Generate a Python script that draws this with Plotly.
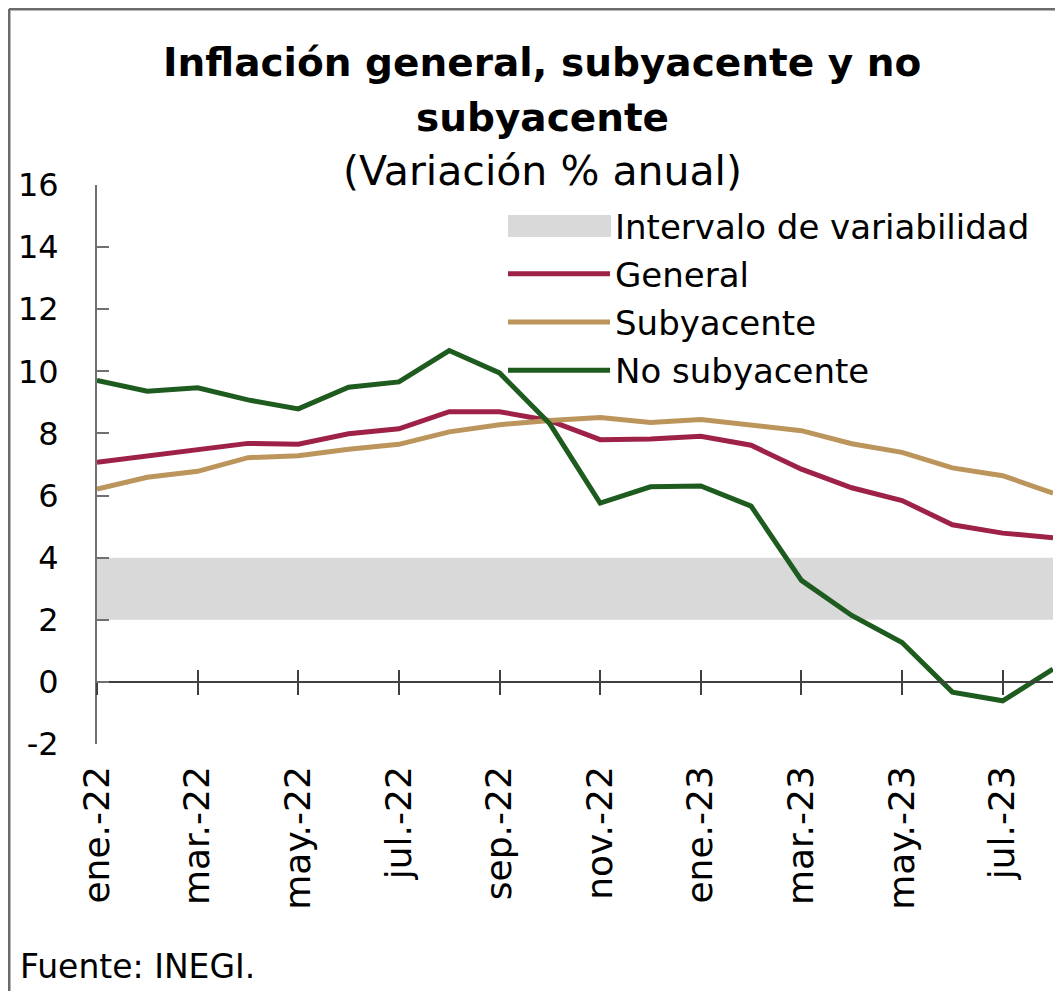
import plotly.graph_objects as go

# ---------------- data ----------------
months = ["ene.-22", "feb.-22", "mar.-22", "abr.-22", "may.-22", "jun.-22",
          "jul.-22", "ago.-22", "sep.-22", "oct.-22", "nov.-22", "dic.-22",
          "ene.-23", "feb.-23", "mar.-23", "abr.-23", "may.-23", "jun.-23",
          "jul.-23", "ago.-23"]
general = [7.07, 7.28, 7.45, 7.68, 7.65, 7.99, 8.15, 8.70, 8.70, 8.41,
           7.80, 7.82, 7.91, 7.62, 6.85, 6.25, 5.84, 5.06, 4.79, 4.64]
subyacente = [6.21, 6.59, 6.78, 7.22, 7.28, 7.49, 7.65, 8.05, 8.28, 8.42,
              8.51, 8.35, 8.45, 8.29, 8.09, 7.67, 7.39, 6.89, 6.64, 6.08]
no_subyacente = [9.71, 9.36, 9.47, 9.08, 8.79, 9.49, 9.66, 10.67, 9.95, 8.31,
                 5.76, 6.28, 6.31, 5.66, 3.27, 2.14, 1.27, -0.33, -0.61, 0.41]
band_low = 2
band_high = 4
tick_labels = months[::2]
y_ticks = list(range(-2, 17, 2))
y_tick_text = [str(v) for v in y_ticks]

# ---------------- figure ----------------
FONT = "DejaVu Sans"
C_GEN = "#9E2247"
C_SUB = "#BC955C"
C_NOS = "#1E5B1F"
C_BAND = "#D9D9D9"
C_FRAME = "#6B6B6B"

idx = list(range(len(months)))
tick_idx = idx[::2]
x_range = [idx[0], idx[-1]]
y_range = [y_ticks[0], y_ticks[-1]]

# page has an 8px body margin: work in reference pixels, shift by OFF
OFF = 8
W, H = 1063 - 2 * OFF, 999 - 2 * OFF
L = 97 - OFF
T = 185 - OFF
R = W - (1053 - OFF)
B = H - (744 - OFF)
pw, ph = W - L - R, H - T - B


def px_x(px):
    return (px - OFF - L) / pw


def px_y(py):
    return (H - B - (py - OFF)) / ph


fig = go.Figure()

# variability band
fig.add_trace(go.Scatter(x=idx, y=[band_low] * len(idx), mode="lines",
                         line=dict(width=0, color=C_BAND), showlegend=False,
                         hoverinfo="skip"))
fig.add_trace(go.Scatter(x=idx, y=[band_high] * len(idx), mode="lines",
                         line=dict(width=0, color=C_BAND), fill="tonexty",
                         fillcolor=C_BAND, showlegend=False, hoverinfo="skip"))
# legend entry for the band
fig.add_trace(go.Scatter(x=[None], y=[None], mode="lines",
                         line=dict(width=10, color=C_BAND),
                         name="Intervalo de variabilidad", legendgroup="a"))

fig.add_trace(go.Scatter(x=idx, y=general, mode="lines", name="General",
                         line=dict(color=C_GEN, width=5), legendgroup="b"))
fig.add_trace(go.Scatter(x=idx, y=subyacente, mode="lines", name="Subyacente",
                         line=dict(color=C_SUB, width=5), legendgroup="c"))
fig.add_trace(go.Scatter(x=idx, y=no_subyacente, mode="lines", name="No subyacente",
                         line=dict(color=C_NOS, width=5), legendgroup="d"))

# empty traces so the overlay axes exist
fig.add_trace(go.Scatter(x=[None], y=[None], xaxis="x2", yaxis="y",
                         showlegend=False, hoverinfo="skip"))
fig.add_trace(go.Scatter(x=[None], y=[None], xaxis="x3", yaxis="y",
                         showlegend=False, hoverinfo="skip"))

zero_pos = (0 - y_range[0]) / (y_range[1] - y_range[0])

fig.update_layout(
    width=W, height=H,
    margin=dict(l=L, r=R, t=T, b=B, pad=0),
    paper_bgcolor="white", plot_bgcolor="white",
    font=dict(family=FONT, size=30, color="black"),
    xaxis=dict(range=x_range, tickvals=tick_idx, ticktext=tick_labels,
               tickangle=-90, showline=False, showgrid=False, zeroline=False,
               ticks="", ticklabelstandoff=14,
               tickfont=dict(size=36)),
    xaxis2=dict(range=x_range, overlaying="x", anchor="free", position=zero_pos,
                tickvals=tick_idx, showticklabels=False, ticks="outside",
                ticklen=12, tickwidth=2, tickcolor="#404040",
                showline=True, linecolor="#404040", linewidth=2,
                showgrid=False, zeroline=False),
    xaxis3=dict(range=x_range, overlaying="x", anchor="free", position=zero_pos,
                tickvals=tick_idx, showticklabels=False, ticks="inside",
                ticklen=12, tickwidth=2, tickcolor="#404040",
                showline=False, showgrid=False, zeroline=False),
    yaxis=dict(range=y_range, tickvals=y_ticks, ticktext=y_tick_text,
               ticks="inside", ticklen=12,
               tickwidth=2, tickcolor="#707070", showline=True,
               linecolor="#707070", linewidth=2, showgrid=False, zeroline=False,
               ticklabelstandoff=30, tickfont=dict(size=32)),
    legend=dict(x=px_x(503), xanchor="left", y=px_y(197), yanchor="top",
                itemwidth=102, tracegroupgap=1, bgcolor="rgba(0,0,0,0)",
                font=dict(family=FONT, size=34, color="black")),
    showlegend=True,
)

# title lines
fig.add_annotation(text="<b>Inflación general, subyacente y no</b>",
                   xref="paper", yref="paper", x=px_x(542), y=px_y(62),
                   xanchor="center", yanchor="middle", showarrow=False,
                   font=dict(family=FONT, size=39, color="black"))
fig.add_annotation(text="<b>subyacente</b>",
                   xref="paper", yref="paper", x=px_x(542), y=px_y(117),
                   xanchor="center", yanchor="middle", showarrow=False,
                   font=dict(family=FONT, size=39, color="black"))
fig.add_annotation(text="(Variación % anual)",
                   xref="paper", yref="paper", x=px_x(542), y=px_y(171),
                   xanchor="center", yanchor="middle", showarrow=False,
                   font=dict(family=FONT, size=41, color="black"))

# thicker legend swatch for the band
fig.add_shape(type="rect", xref="paper", yref="paper",
              x0=px_x(508), x1=px_x(611), y0=px_y(237), y1=px_y(215),
              fillcolor=C_BAND, line=dict(width=0), layer="above")

# outer frame (top and left)
fig.add_shape(type="line", xref="paper", yref="paper",
              x0=px_x(9), x1=px_x(1063), y0=px_y(9), y1=px_y(9),
              line=dict(color=C_FRAME, width=3))
fig.add_shape(type="line", xref="paper", yref="paper",
              x0=px_x(9), x1=px_x(9), y0=px_y(9), y1=px_y(999),
              line=dict(color=C_FRAME, width=3))

fig.add_annotation(text="Fuente: INEGI.", xref="paper", yref="paper",
                   x=px_x(18), y=px_y(966), xanchor="left", yanchor="middle",
                   showarrow=False, font=dict(family=FONT, size=33, color="black"))

fig.write_html("out.html")
